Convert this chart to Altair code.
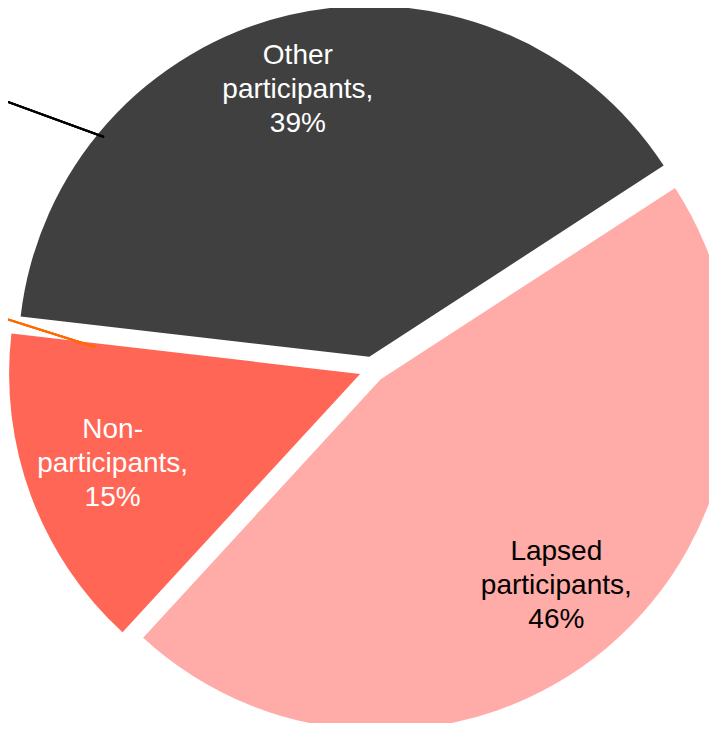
import altair as alt
import pandas as pd

categories = ["Lapsed participants", "Non-participants", "Other participants"]
label_heads = ["Lapsed\nparticipants", "Non-\nparticipants", "Other\nparticipants"]
values = [46, 15, 39]
colors = ["#FFABA8", "#FF6655", "#404040"]
text_colors = ["#000000", "#FFFFFF", "#FFFFFF"]

df = pd.DataFrame({
    "category": categories,
    "head": label_heads,
    "value": values,
    "order": list(range(len(categories))),
})

W, H = 701, 715
CX, CY = 364.3, 361.4
R = 351
START = 0.9948
TWO_PI = 6.283185307

# explode offsets (dx, dy), label radius, label nudges per slice
style = {
    "Lapsed participants": (8.4, 9.9, 282, 2, -33),
    "Non-participants": (-12.2, 4.5, 276, -1, -36),
    "Other participants": (-3.0, -12.6, 291, -8, -30),
}

theta_scale = alt.Scale(domain=[0, 100], range=[START, START + TWO_PI])

base = (
    alt.Chart(df)
    .transform_window(cum="sum(value)", sort=[alt.SortField("order")], frame=[None, 0])
    .transform_calculate(
        start="datum.cum - datum.value",
        mid="datum.cum - datum.value / 2",
        txt="datum.head + ',\\n' + datum.value + '%'",
    )
)

layers = []
for cat, col, tcol in zip(categories, colors, text_colors):
    dx, dy, lr, tdx, tdy = style[cat]
    sub = base.transform_filter(alt.datum.category == cat)
    arc = sub.mark_arc(outerRadius=R, color=col, stroke=None).encode(
        theta=alt.Theta("start:Q", scale=theta_scale),
        theta2="cum:Q",
        x=alt.value(CX + dx),
        y=alt.value(CY + dy),
    )
    txt = sub.mark_text(
        font="Liberation Sans", fontSize=28, lineBreak="\n", lineHeight=34,
        align="center", baseline="middle", color=tcol, dx=tdx, dy=tdy,
    ).encode(
        theta=alt.Theta("mid:Q", scale=theta_scale),
        radius=alt.value(lr),
        x=alt.value(CX),
        y=alt.value(CY),
        text="txt:N",
    )
    layers += [arc, txt]

black_line = alt.Chart(df).mark_rule(color="#000000", strokeWidth=2).encode(
    x=alt.value(0), x2=alt.value(96), y=alt.value(94), y2=alt.value(129)
)
orange_line = alt.Chart(df).mark_rule(color="#FF6A00", strokeWidth=2).encode(
    x=alt.value(0), x2=alt.value(87), y=alt.value(311.5), y2=alt.value(339)
)

chart = alt.layer(*layers, black_line, orange_line).properties(
    width=W, height=H, autosize=alt.AutoSizeParams(type="none"), padding=0
).configure_view(stroke=None)

chart.save("out.html", embed_options={"renderer": "svg", "actions": False})
